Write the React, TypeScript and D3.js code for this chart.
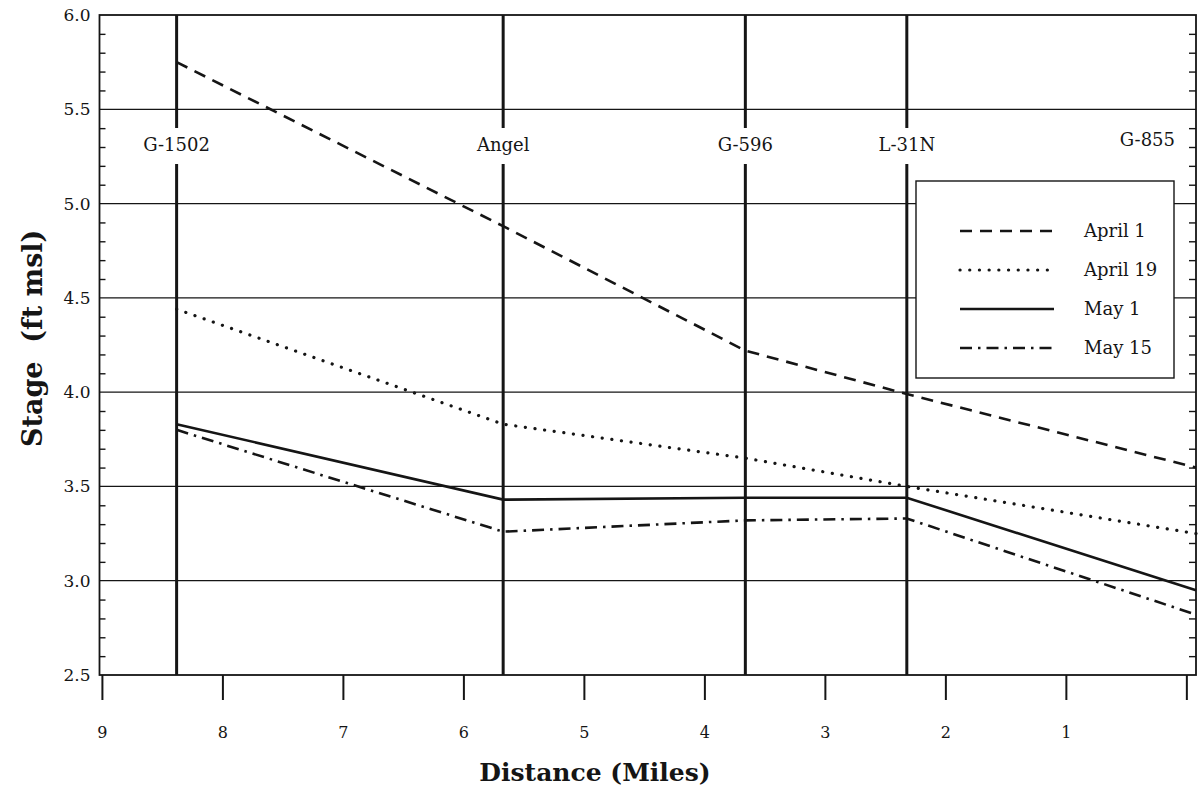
import { useEffect, useRef } from 'react'
import * as d3 from 'd3'

// gauge stations along the canal and their distance (miles) from G-855
const STATIONS = ['G-1502', 'Angel', 'G-596', 'L-31N', 'G-855']
const STATION_MILES = [8.38, 5.67, 3.66, 2.32, -0.08]

// stage (ft msl) at each station, one array per survey date
const APRIL_1 = [5.75, 4.88, 4.22, 3.99, 3.6]
const APRIL_19 = [4.44, 3.83, 3.65, 3.5, 3.25]
const MAY_1 = [3.83, 3.43, 3.44, 3.44, 2.95]
const MAY_15 = [3.8, 3.26, 3.32, 3.33, 2.82]

const SERIES_NAMES = ['April 1', 'April 19', 'May 1', 'May 15']
const SERIES_VALUES = [APRIL_1, APRIL_19, MAY_1, MAY_15]

const MILE_TICKS = [9, 8, 7, 6, 5, 4, 3, 2, 1, 0]
const STAGE_TICKS = [2.5, 3.0, 3.5, 4.0, 4.5, 5.0, 5.5, 6.0]
const STAGE_MINOR = [
  2.6, 2.7, 2.8, 2.9, 3.1, 3.2, 3.3, 3.4, 3.6, 3.7, 3.8, 3.9, 4.1, 4.2, 4.3, 4.4,
  4.6, 4.7, 4.8, 4.9, 5.1, 5.2, 5.3, 5.4, 5.6, 5.7, 5.8, 5.9,
]

// line look per series: dash pattern + cap
const STYLES = [
  { dash: '12,8', cap: 'butt', width: 2.6 },
  { dash: '0.1,9.6', cap: 'round', width: 3.2 },
  { dash: null, cap: 'butt', width: 2.6 },
  { dash: '12,6,2.5,6', cap: 'butt', width: 2.6 },
]

export default function App() {
  const svgRef = useRef<SVGSVGElement>(null)

  useEffect(() => {
    if (!svgRef.current) return
    const svg = d3.select(svgRef.current)
    svg.selectAll('*').remove()

    const W = 1199
    const H = 791
    const left = 99.5
    const right = 1196
    const top = 15
    const bottom = 675
    const ink = '#151515'
    const font = '"DejaVu Serif", "Liberation Serif", serif'

    const x = d3.scaleLinear().domain([9.02, -0.08]).range([left, right])
    const y = d3.scaleLinear().domain([2.5, 6.0]).range([bottom, top])

    svg.attr('width', W).attr('height', H).attr('viewBox', `0 0 ${W} ${H}`)
    svg.append('rect').attr('width', W).attr('height', H).attr('fill', '#fff')

    // horizontal grid at every half foot
    svg.append('g')
      .selectAll('line')
      .data(STAGE_TICKS.filter((v) => v > 2.5 && v < 6))
      .join('line')
      .attr('x1', left).attr('x2', right)
      .attr('y1', (d) => y(d)).attr('y2', (d) => y(d))
      .attr('stroke', ink).attr('stroke-width', 1.2)

    // minor ticks, inside on both sides
    const leftMinor = svg.append('g')
      .attr('transform', `translate(${left},0)`)
      .call(d3.axisRight(y).tickValues(STAGE_MINOR).tickSize(6).tickFormat(() => ''))
    const rightMinor = svg.append('g')
      .attr('transform', `translate(${right},0)`)
      .call(d3.axisLeft(y).tickValues(STAGE_MINOR).tickSize(7).tickFormat(() => ''))
    ;[leftMinor, rightMinor].forEach((g) => {
      g.select('.domain').remove()
      g.selectAll('line').attr('stroke', ink).attr('stroke-width', 1.4)
    })

    // y labels
    const yAxis = svg.append('g')
      .attr('transform', `translate(${left},0)`)
      .call(d3.axisLeft(y).tickValues(STAGE_TICKS).tickSize(0).tickPadding(9).tickFormat(d3.format('.1f')))
    yAxis.select('.domain').remove()
    yAxis.selectAll('text')
      .attr('font-family', font).attr('font-size', 17).attr('fill', ink)

    // x axis, long ticks hanging below
    const xAxis = svg.append('g')
      .attr('transform', `translate(0,${bottom})`)
      .call(d3.axisBottom(x).tickValues(MILE_TICKS).tickSize(25)
        .tickFormat((d) => (d === 0 ? '' : String(d))))
    xAxis.select('.domain').remove()
    xAxis.selectAll('line').attr('stroke', ink).attr('stroke-width', 2)
    xAxis.selectAll('text')
      .attr('y', 63).attr('dy', 0)
      .attr('font-family', font).attr('font-size', 16).attr('fill', ink)

    // plot frame
    svg.append('rect')
      .attr('x', left).attr('y', top)
      .attr('width', right - left).attr('height', bottom - top)
      .attr('fill', 'none').attr('stroke', ink).attr('stroke-width', 1.8)

    // station verticals with their names in a gap
    const gapTop = 128
    const gapBottom = 164
    STATIONS.forEach((name, i) => {
      const sx = x(STATION_MILES[i])
      const last = i === STATIONS.length - 1
      if (!last) {
        svg.append('line')
          .attr('x1', sx).attr('x2', sx).attr('y1', top).attr('y2', gapTop)
          .attr('stroke', ink).attr('stroke-width', 3)
        svg.append('line')
          .attr('x1', sx).attr('x2', sx).attr('y1', gapBottom).attr('y2', bottom)
          .attr('stroke', ink).attr('stroke-width', 3)
      }
      svg.append('text')
        .attr('x', last ? sx - 21 : sx).attr('y', last ? 146 : 151)
        .attr('text-anchor', last ? 'end' : 'middle')
        .attr('font-family', font).attr('font-size', 18).attr('fill', ink)
        .text(name)
    })

    // series
    const line = d3.line<number>()
      .x((_, i) => x(STATION_MILES[i]))
      .y((d) => y(d))

    SERIES_VALUES.forEach((vals, i) => {
      const s = STYLES[i]
      svg.append('path')
        .attr('d', line(vals))
        .attr('fill', 'none').attr('stroke', ink)
        .attr('stroke-width', s.width)
        .attr('stroke-linecap', s.cap)
        .attr('stroke-dasharray', s.dash)
    })

    // legend
    const lg = svg.append('g')
    lg.append('rect')
      .attr('x', 916).attr('y', 181).attr('width', 258).attr('height', 197)
      .attr('fill', '#fff').attr('stroke', ink).attr('stroke-width', 1.4)
    SERIES_NAMES.forEach((name, i) => {
      const ry = 231 + i * 39
      const s = STYLES[i]
      lg.append('line')
        .attr('x1', 960).attr('x2', 1054).attr('y1', ry).attr('y2', ry)
        .attr('stroke', ink).attr('stroke-width', s.width)
        .attr('stroke-linecap', s.cap)
        .attr('stroke-dasharray', s.dash)
      lg.append('text')
        .attr('x', 1084).attr('y', ry).attr('dy', '0.35em')
        .attr('font-family', font).attr('font-size', 18).attr('fill', ink)
        .text(name)
    })

    // axis titles
    svg.append('text')
      .attr('x', 595).attr('y', 781)
      .attr('text-anchor', 'middle')
      .attr('font-family', font).attr('font-size', 25).attr('font-weight', 'bold').attr('fill', ink)
      .text('Distance (Miles)')

    svg.append('text')
      .attr('transform', 'translate(42,447) rotate(-90)')
      .attr('text-anchor', 'start')
      .style('white-space', 'pre')
      .attr('font-family', font).attr('font-size', 27).attr('font-weight', 'bold').attr('fill', ink)
      .text('Stage  (ft msl)')
  }, [])

  return <svg ref={svgRef} style={{ position: 'absolute', left: 0, top: 0, display: 'block' }} />
}
